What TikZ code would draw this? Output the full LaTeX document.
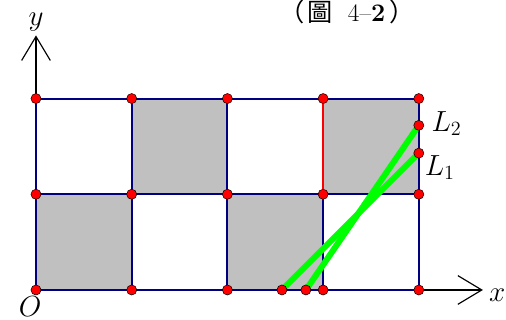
\documentclass[tikz,border=0pt]{standalone}
\usepackage{fontspec}
\newfontfamily\cjk{Noto Sans CJK TC}
\usetikzlibrary{arrows.meta}
\definecolor{cGrid}{HTML}{000080}
\definecolor{cCell}{HTML}{C0C0C0}
\definecolor{cSeg} {HTML}{00FF00}
\definecolor{cDot} {HTML}{FF0000}
\tikzset{
  cell/.style  ={fill=cCell,draw=none},
  gridln/.style={draw=cGrid,line width=1.2pt},
  redge/.style ={draw=cDot,line width=1.2pt},
  seg/.style   ={draw=cSeg,line width=3.6pt},
  axis/.style  ={draw=black,line width=0.7pt,-{Straight Barb[length=5mm,width=6mm]}},
  dot/.style   ={circle,fill=cDot,draw=black,line width=0.3pt,inner sep=0pt,minimum size=6pt},
  lbl/.style   ={font=\fontsize{17.5}{20}\selectfont},
  ttl/.style   ={font=\fontsize{15}{17}\selectfont,inner sep=0pt},
}

\begin{document}
\begin{tikzpicture}[x=2cm, y=2cm]
\useasboundingbox (-0.376,-0.313) rectangle (4.911,3.030);

% ===== shaded cells and grid ===============================================
\foreach \cx/\cy in {1/1,3/1,0/0,2/0}
  \fill[cell] (\cx,\cy) rectangle ++(1,1);
\draw[gridln,step=2cm] (0,0) grid (4,2);
\draw[redge] (3,1) -- (3,2);

% ===== lattice points ======================================================
\foreach \i in {0,...,4}
  \foreach \j in {0,1,2}
    \coordinate (p\i\j) at (\i,\j);
\coordinate (a1) at (2.57,0);
\coordinate (a2) at (2.82,0);
\coordinate (b1) at (4,1.43);
\coordinate (b2) at (4,1.72);

% ===== axes ================================================================
\coordinate (xend) at (4.67,0);
\coordinate (yend) at (0,2.66);
\draw[axis] (p40) -- (xend);
\draw[axis] (p02) -- (yend);

% ===== the two lines =======================================================
\draw[seg] (a1) -- (b1);
\draw[seg] (a2) -- (b2);

% ===== dots ================================================================
\foreach \i in {0,...,4}
  \foreach \j in {0,1,2}
    \node[dot] (d\i\j) at (p\i\j) {};
\foreach \q in {a1,a2,b1,b2}
  \node[dot] (d\q) at (\q) {};

% ===== labels ==============================================================
\node[lbl] (ly)  at (0.0,2.80)    {$y$};
\node[lbl] (lo)  at (-0.06,-0.17) {$O$};
\node[lbl] (lx)  at (4.82,-0.06)  {$x$};
\node[lbl] (ltwo) at (4.29,1.74)  {$L_2$};
\node[lbl] (lone) at (4.22,1.28)  {$L_1$};
\node[ttl] (cap) at (3.25,2.91)
  {{\cjk （}\hspace{1.8pt}{\cjk 圖}\hspace{9pt}4–\textbf{2}\hspace{2.4pt}{\cjk ）}};
\end{tikzpicture}
\end{document}
